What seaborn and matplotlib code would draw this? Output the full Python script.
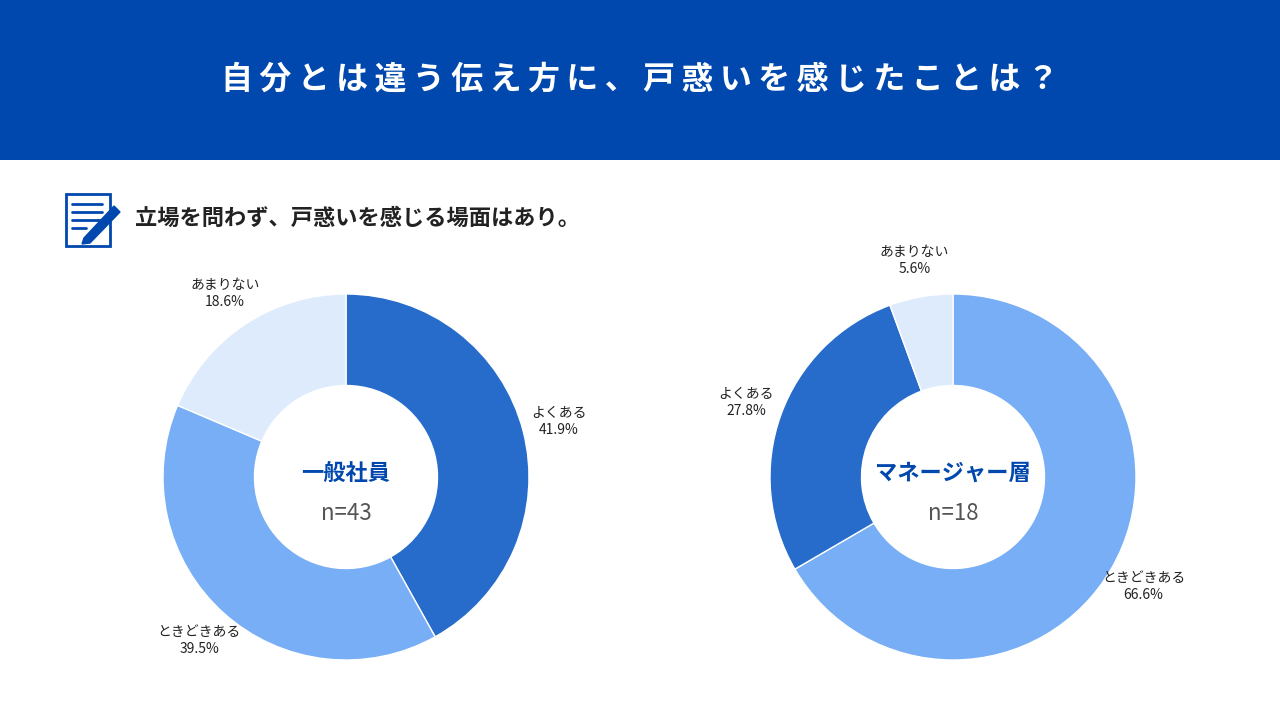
import matplotlib.pyplot as plt
import matplotlib.patches as patches
import numpy as np
import seaborn as sns

# Data
labels = ['よくある', 'ときどきある', 'あまりない']
general_pct = [41.9, 39.5, 18.6]
manager_pct = [27.8, 66.6, 5.6]
colors = {'よくある': '#276BCB', 'ときどきある': '#78AEF5', 'あまりない': '#DDEBFD'}

sns.set_theme(style="white")
plt.rcParams['font.family'] = ['Noto Sans CJK JP', 'DejaVu Sans']

fig = plt.figure(figsize=(12.8, 7.2), dpi=100)
W, H = 1280, 720

# Header band
band = fig.add_axes([0, 1 - 160 / H, 1, 160 / H])
band.set_facecolor('#0048AD')
band.set_xticks([]); band.set_yticks([])
for s in band.spines.values():
    s.set_visible(False)
fig.text(0.5, 1 - 80 / H, '自 分 と は 違 う 伝 え 方 に 、 戸 惑 い を 感 じ た こ と は ？'.replace(' ', '\u2009'),
         color='white', fontsize=23, fontweight='bold', ha='center', va='center',
         family=['Noto Sans CJK JP', 'DejaVu Sans'])

# Subtitle and icon
fig.text(135 / W, 1 - 218 / H, '立場を問わず、戸惑いを感じる場面はあり。', color='#222222',
         fontsize=16, fontweight='bold', ha='left', va='center')
icon = fig.add_axes([62 / W, 1 - 248 / H, 62 / W, 60 / H])
icon.set_xlim(0, 62); icon.set_ylim(0, 60); icon.axis('off')
icon.add_patch(patches.Rectangle((4, 2), 44, 52, fill=False, ec='#0048AD', lw=2))
for y in [44, 36, 28]:
    icon.plot([10, 40], [y, y], color='#0048AD', lw=2)
icon.plot([10, 24], [20, 20], color='#0048AD', lw=2)
icon.add_patch(patches.Polygon([[22, 10], [52, 42], [58, 36], [28, 5], [20, 4]], color='#0048AD'))


def donut(cx, cy, order, values, title, n):
    R = 183
    ax = fig.add_axes([(cx - 250) / W, 1 - (cy + 250) / H, 500 / W, 500 / H])
    wedges, _ = ax.pie(values, colors=[colors[o] for o in order], startangle=90,
                       counterclock=False, radius=1,
                       wedgeprops=dict(width=0.5, edgecolor='white', linewidth=1))
    ax.set_xlim(-250 / R, 250 / R); ax.set_ylim(-250 / R, 250 / R)
    ax.set_aspect('equal'); ax.axis('off')
    for w, lab, v in zip(wedges, order, values):
        ang = np.deg2rad((w.theta1 + w.theta2) / 2)
        r = 1.2
        ax.text(r * np.cos(ang), r * np.sin(ang), f'{lab}\n{v}%', ha='center', va='center',
                fontsize=10, color='#222222', linespacing=1.3)
    ax.text(0, 0.02, title, ha='center', va='center', fontsize=16, fontweight='bold', color='#0048AD')
    ax.text(0, -0.2, n, ha='center', va='center', fontsize=16, color='#555555')


donut(346, 477, labels, general_pct, '一般社員', 'n=43')
donut(953, 477, ['ときどきある', 'よくある', 'あまりない'],
      [manager_pct[1], manager_pct[0], manager_pct[2]], 'マネージャー層', 'n=18')

fig.savefig('out.png', dpi=100, facecolor='white')
